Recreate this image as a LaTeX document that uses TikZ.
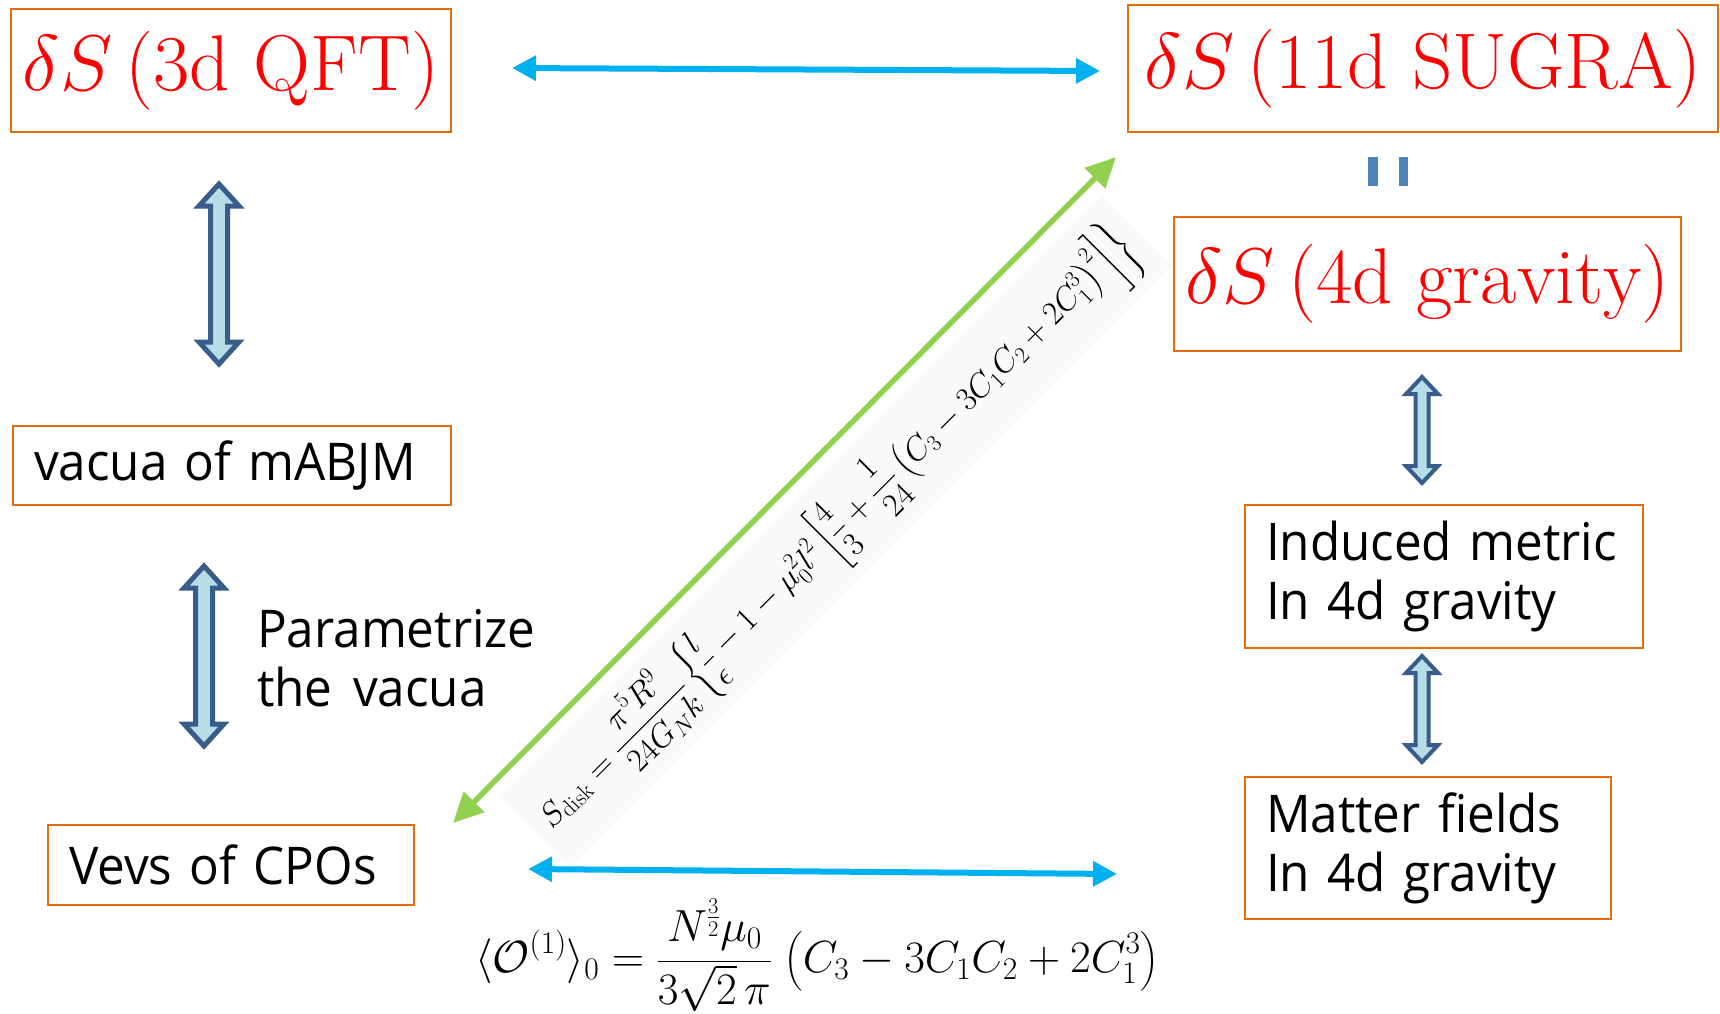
\RequirePackage{fix-cm}
\documentclass[tikz,border=0pt]{standalone}
\usepackage{amsmath}
\usepackage{fontspec}
\newfontfamily\ksans[FakeStretch=0.95, WordSpace=1.6]{Open Sans}
\usetikzlibrary{arrows.meta}
\definecolor{boxor}{RGB}{228,108,10}
\definecolor{arrcyan}{RGB}{0,176,240}
\definecolor{arrgreen}{RGB}{146,208,80}
\definecolor{blkdark}{RGB}{56,93,138}
\definecolor{blkfill}{RGB}{183,221,232}
\definecolor{eqblue}{RGB}{79,129,189}
\tikzset{
  qbox/.style={draw=boxor, line width=2.5pt, inner sep=0pt, text=red, font=\fontsize{79}{84}\selectfont},
  tbox/.style={draw=boxor, line width=2.5pt, inner xsep=21pt, inner ysep=0pt, align=left, font=\ksans\fontsize{52}{59}\selectfont},
  cyanarrow/.style={draw=arrcyan, line width=6pt, {Triangle[length=24pt,width=24pt]}-{Triangle[length=24pt,width=24pt]}},
  greenarrow/.style={draw=arrgreen, line width=5.5pt, {Triangle[length=30pt,width=28pt]}-{Triangle[length=30pt,width=28pt]}},
  blockbig/.style={draw=blkdark, fill=blkfill, line width=5pt, line join=miter},
  blocksmall/.style={draw=blkdark, fill=blkfill, line width=4pt, line join=miter},
}
% #1 x, #2 ytop, #3 ybot, #4 shaft half width, #5 head half width, #6 head length, #7 style
\newcommand\udblock[7]{%
  \draw[#7] (#1,#2) -- ({#1+#5},{#2+#6}) -- ({#1+#4},{#2+#6}) -- ({#1+#4},{#3-#6})
    -- ({#1+#5},{#3-#6}) -- (#1,#3) -- ({#1-#5},{#3-#6}) -- ({#1-#4},{#3-#6})
    -- ({#1-#4},{#2+#6}) -- ({#1-#5},{#2+#6}) -- cycle;}
\begin{document}
\begin{tikzpicture}[x=1pt, y=-1pt]
\useasboundingbox[fill=white] (0,0) rectangle (1720,1013);

% formula background + formula along the diagonal
\node[rotate=45, fill=black!2, inner xsep=14pt, inner ysep=10pt, font=\fontsize{33}{40}\selectfont] (sdisk) at (836,531)
  {$\displaystyle S_{\mathrm{disk}}=\frac{\pi^5R^9}{24G_Nk}\left\{\frac{l}{\epsilon}-1-\mu_0^2l^2\left[\frac{4}{3}+\frac{1}{24}\left(C_3-3C_1C_2+2C_1^3\right)^2\right]\right\}$};

% red boxes
\node[qbox, minimum width=440pt, minimum height=123pt] (qft) at (231,70.5) {$\delta S\,(\mathrm{3d\ QFT})$};
\node[qbox, minimum width=590pt, minimum height=127pt] (sugra) at (1423,68.5) {$\delta S\,(\mathrm{11d\ SUGRA})$};
\node[qbox, minimum width=507pt, minimum height=134pt] (grav) at (1427.5,284) {$\delta S\,(\mathrm{4d\ gravity})$};

% text boxes
\node[tbox, text width=396pt, minimum height=79pt] (vacua) at (232,465.5) {\mbox{vacua of mABJM}};
\node[tbox, text width=324pt, minimum height=80pt] (vevs) at (231,865) {\mbox{Vevs of CPOs}};
\node[tbox, text width=356pt, minimum height=143pt] (metric) at (1444,576.5) {\mbox{Induced metric}\\\mbox{In 4d gravity}\\[-10pt]};
\node[tbox, text width=324pt, minimum height=142pt] (matter) at (1428,848) {\mbox{Matter fields}\\\mbox{In 4d gravity}\\[-10pt]};

\node[font=\ksans\fontsize{52}{59}\selectfont, align=left, anchor=west, inner sep=0pt] (param) at (257,658) {Parametrize\\the vacua};

% equal sign between SUGRA and 4d gravity
\fill[eqblue] (1368,157) rectangle (1378,186);
\fill[eqblue] (1399,157) rectangle (1408,186);

% block arrows
\udblock{219}{184}{364}{8.5}{20}{22}{blockbig}
\udblock{204}{566}{746}{8.5}{20}{22}{blockbig}
\udblock{1422}{377}{483}{6.5}{16}{17}{blocksmall}
\udblock{1422}{656}{762}{6.5}{16}{17}{blocksmall}

% cyan arrows
\coordinate (t1) at (512,68);
\coordinate (t2) at (1100,71);
\draw[cyanarrow] (t1) -- (t2);
\coordinate (b1) at (528,869);
\coordinate (b2) at (1117,874);
\draw[cyanarrow] (b1) -- (b2);

% green arrow
\coordinate (g1) at (453,823);
\coordinate (g2) at (1116,157);
\draw[greenarrow] (g1) -- (g2);

% bottom formula
\node[font=\fontsize{45}{50}\selectfont, inner sep=0pt] (vev) at (817,955)
  {$\displaystyle \langle\mathcal{O}^{(1)}\rangle_0=\frac{N^{\frac{3}{2}}\mu_0}{3\sqrt{2}\,\pi}\;\big(C_3-3C_1C_2+2C_1^3\big)$};
\end{tikzpicture}
\end{document}
